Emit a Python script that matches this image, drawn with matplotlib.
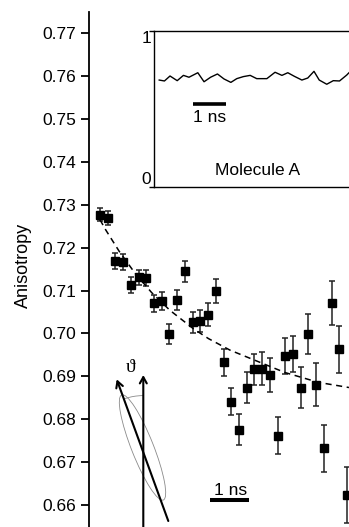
import matplotlib
matplotlib.use('Agg')
import matplotlib.pyplot as plt
from matplotlib.patches import FancyArrowPatch, Ellipse, Arc

plt.rcParams['font.family'] = ['Liberation Sans', 'DejaVu Sans']

# Anisotropy decay
time_ns = [0.0, 0.2, 0.4, 0.6, 0.8, 1.0, 1.2, 1.4, 1.6, 1.8, 2.0,
           2.2, 2.4, 2.6, 2.8, 3.0, 3.2, 3.4, 3.6, 3.8, 4.0, 4.2,
           4.4, 4.6, 4.8, 5.0, 5.2, 5.4, 5.6, 5.8, 6.0, 6.2, 6.4]
anisotropy = [0.7277, 0.7269, 0.7169, 0.7166, 0.7113, 0.7131, 0.7130,
              0.7070, 0.7075, 0.6999, 0.7078, 0.7145, 0.7026, 0.7029,
              0.7044, 0.7099, 0.6933, 0.6841, 0.6776, 0.6873, 0.6916,
              0.6918, 0.6903, 0.6762, 0.6947, 0.6952, 0.6874, 0.6999,
              0.6881, 0.6732, 0.7071, 0.6963, 0.6623]
errors = [0.0016, 0.0016, 0.0018, 0.0018, 0.0018, 0.0018, 0.0019,
          0.0020, 0.0021, 0.0023, 0.0023, 0.0024, 0.0025, 0.0026,
          0.0027, 0.0028, 0.0031, 0.0032, 0.0036, 0.0036, 0.0037,
          0.0038, 0.0040, 0.0044, 0.0042, 0.0043, 0.0047, 0.0047,
          0.0051, 0.0054, 0.0052, 0.0055, 0.0065]

# dashed fit curve
fit_t = [0.0, 0.15, 0.5, 0.91, 1.34, 1.81, 2.42, 2.81, 3.37, 3.89,
         4.79, 5.66, 6.45]
fit_r = [0.7265, 0.7241, 0.7191, 0.7140, 0.7095, 0.7054, 0.7011,
         0.6988, 0.6961, 0.6942, 0.6909, 0.6886, 0.6874]

y_ticks = [0.66, 0.67, 0.68, 0.69, 0.70, 0.71, 0.72, 0.73, 0.74,
           0.75, 0.76, 0.77]

# inset trace (Molecule A)
inset_t = [0.15, 0.31, 0.48, 0.70, 0.89, 1.06, 1.33, 1.52, 1.72, 1.93,
           2.13, 2.34, 2.52, 2.72, 2.93, 3.13, 3.44, 3.69, 3.90, 4.08,
           4.28, 4.51, 4.69, 4.88, 5.04, 5.27, 5.47, 5.66, 5.88, 5.95]
inset_r = [0.685, 0.679, 0.711, 0.681, 0.715, 0.703, 0.732, 0.674,
           0.703, 0.724, 0.692, 0.670, 0.694, 0.707, 0.715, 0.694,
           0.694, 0.735, 0.715, 0.732, 0.709, 0.685, 0.698, 0.741,
           0.685, 0.658, 0.681, 0.679, 0.717, 0.732]

W, H = 349, 527
fig = plt.figure(figsize=(W / 100, H / 100), dpi=100)

# Main axes
ax = fig.add_axes([89 / W, 0, 1 - 89 / W, (H - 12) / H])
ax.errorbar(time_ns, anisotropy, yerr=errors, fmt='s', color='black',
            ms=6.0, ecolor='#222222', elinewidth=1.1, capsize=2.5,
            capthick=1.1)
ax.plot(fit_t, fit_r, color='black', lw=1.1, dashes=(4, 3))

ax.set_xlim(-0.285, 6.451)
ax.set_ylim(0.6549, 0.7749)
ax.set_yticks(y_ticks)
ax.set_yticklabels([f'{v:.2f}' for v in y_ticks])
ax.set_xticks([])
for side in ['top', 'right', 'bottom']:
    ax.spines[side].set_visible(False)
ax.spines['left'].set_linewidth(1.3)
ax.tick_params(axis='y', direction='out', length=5.8, width=1.3,
               labelsize=12.5, pad=3.5)
ax.set_ylabel('Anisotropy', fontsize=13)
ax.yaxis.set_label_coords(-0.22, 0.507)

# 1 ns scale bar
ax.plot([2.85, 3.85], [0.6611, 0.6611], color='black', lw=2.9,
        solid_capstyle='butt')
ax.text(3.37, 0.6623, '1 ns', ha='center', va='baseline', fontsize=12.5)

# Inset
ax2 = fig.add_axes([154.3 / W, (H - 186.7) / H, 1 - 154.3 / W,
                    (186.7 - 31) / H])
ax2.plot(inset_t, inset_r, color='black', lw=1.0)
ax2.set_xlim(0, 5.95)
ax2.set_ylim(0, 1)
ax2.set_xticks([])
ax2.set_yticks([0, 1])
ax2.set_yticklabels(['0', '1'])
ax2.spines['right'].set_visible(False)
for side in ['top', 'bottom', 'left']:
    ax2.spines[side].set_linewidth(1.0)
ax2.tick_params(axis='y', direction='out', length=3.6, width=1.0,
                labelsize=12.5, pad=-1.5)
labels = ax2.get_yticklabels()
labels[0].set_va('bottom')
labels[1].set_va('top')
ax2.plot([1.19, 2.19], [0.534, 0.534], color='black', lw=2.6,
         solid_capstyle='butt')
ax2.text(1.69, 0.417, '1 ns', ha='center', va='baseline', fontsize=12.5)
ax2.text(3.16, 0.075, 'Molecule A', ha='center', va='baseline',
         fontsize=12.5)


# Orientation sketch (pixel positions of the reference, in inches)
def px(x, y):
    return (x / 100, (H - y) / 100)


tr = fig.dpi_scale_trans
fig.add_artist(Ellipse(px(142.5, 447.5), 0.22, 1.13, angle=21.6,
                       transform=tr, fill=False, edgecolor='#8a8a8a',
                       lw=0.6))
fig.add_artist(Arc(px(143.3, 452.6), 1.14, 1.14, theta1=90, theta2=110,
                   transform=tr, edgecolor='#8a8a8a', lw=0.6))
fig.add_artist(FancyArrowPatch(px(143.3, 530), px(143.3, 375),
                               transform=tr, mutation_scale=1,
                               arrowstyle='->,head_length=4.5,head_width=2.5',
                               lw=1.5, color='black', shrinkA=0, shrinkB=0))
fig.add_artist(FancyArrowPatch(px(168.3, 521), px(116.7, 379.3),
                               transform=tr, mutation_scale=1,
                               arrowstyle='->,head_length=4.5,head_width=2.5',
                               lw=1.5, color='black', shrinkA=0, shrinkB=0))
fig.text(131 / W, 1 - 367.5 / H, '\u03d1', ha='center', va='center',
         fontsize=14, family=['Liberation Serif', 'DejaVu Serif'])

fig.savefig('out.png', dpi=100)
